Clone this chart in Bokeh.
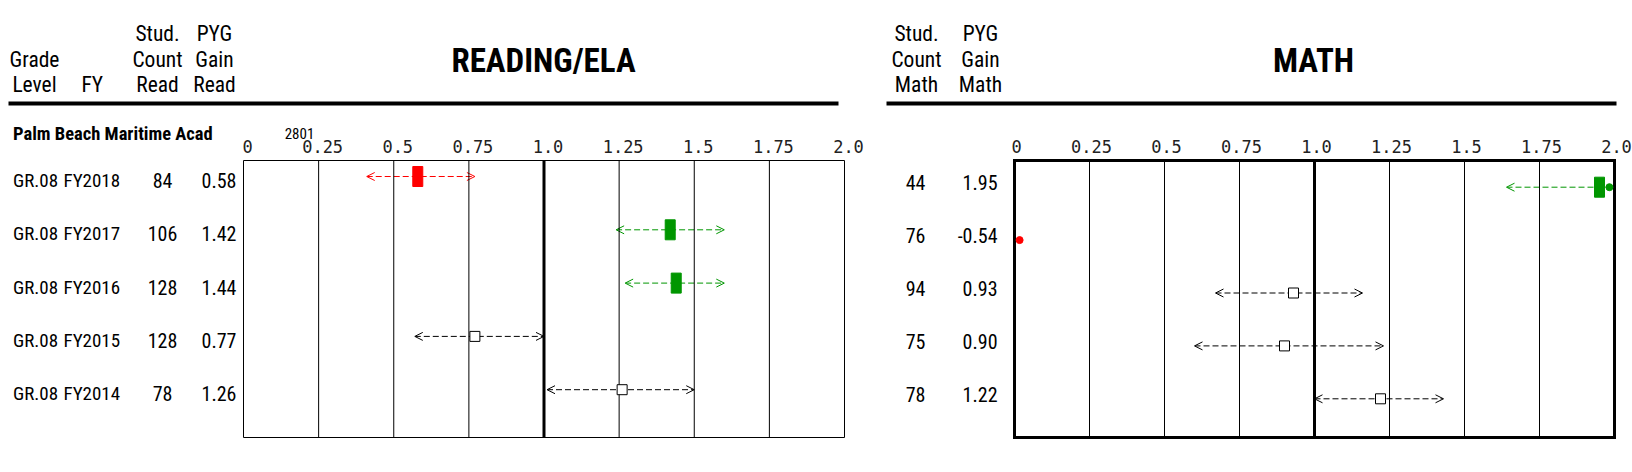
import numpy as np
from bokeh.plotting import figure
from bokeh.layouts import row
from bokeh.models import ColumnDataSource, Range1d, Arrow, OpenHead
from bokeh.embed import file_html
from bokeh.resources import INLINE
from bokeh.core.properties import value

# ---------------- data ----------------
school = "Palm Beach Maritime Acad"
school_code = "2801"
grade = ["GR.08", "GR.08", "GR.08", "GR.08", "GR.08"]
fy = ["FY2018", "FY2017", "FY2016", "FY2015", "FY2014"]

read_count = [84, 106, 128, 128, 78]
read_gain = [0.58, 1.42, 1.44, 0.77, 1.26]
read_lo = [0.41, 1.24, 1.27, 0.57, 1.01]
read_hi = [0.77, 1.60, 1.60, 1.00, 1.50]
read_sig = ["below", "above", "above", "none", "none"]

math_count = [44, 76, 94, 75, 78]
math_gain = [1.95, -0.54, 0.93, 0.90, 1.22]
math_lo = [1.64, np.nan, 0.67, 0.60, 1.00]
math_hi = [np.inf, np.nan, 1.16, 1.23, 1.43]   # inf: beyond the scale
math_sig = ["above", "below", "none", "none", "none"]

tick_vals = [0, 0.25, 0.5, 0.75, 1.0, 1.25, 1.5, 1.75, 2.0]
tick_labels = ["0", "0.25", "0.5", "0.75", "1.0", "1.25", "1.5", "1.75", "2.0"]
grid_vals = [0.25, 0.5, 0.75, 1.25, 1.5, 1.75]
ref_val = 1.0

read_headers = [["Grade", "Level"], ["FY"], ["Stud.", "Count", "Read"], ["PYG", "Gain", "Read"]]
math_headers = [["Stud.", "Count", "Math"], ["PYG", "Gain", "Math"]]
read_title = "READING/ELA"
math_title = "MATH"

# ---------------- styles / layout (screen pixels) ----------------
COLORS = {"below": "#ff0000", "above": "#009600", "none": "#000000"}
NARROW = "Roboto Condensed"
MONO = "DejaVu Sans Mono"
FIG_H = 472
BOX_TOP, BOX_BOT = 160, 437
EDGE_IN = 0.017

CFG_L = dict(canvas_left=0, canvas_w=870, box_left=243, box_right=844,
             row0=176.0, row_h=53.3, outline=1, tick_dx=4)
CFG_R = dict(canvas_left=870, canvas_w=762, box_left=1014, box_right=1614,
             row0=186.7, row_h=52.9, outline=3, tick_dx=2)


def make_panel(cfg):
    ppu = (cfg["box_right"] - cfg["box_left"]) / 2.0
    x0 = (cfg["canvas_left"] - cfg["box_left"]) / ppu
    x1 = (cfg["canvas_left"] + cfg["canvas_w"] - cfg["box_left"]) / ppu
    y_bottom = (FIG_H - cfg["row0"]) / cfg["row_h"]
    y_top = (0 - cfg["row0"]) / cfg["row_h"]
    p = figure(width=cfg["canvas_w"], height=FIG_H,
               x_range=Range1d(x0, x1), y_range=Range1d(y_bottom, y_top),
               x_axis_location=None, y_axis_location=None,
               toolbar_location=None, output_backend="svg", min_border=0)
    p.grid.visible = False
    p.outline_line_color = None
    p.background_fill_color = "white"
    p.border_fill_color = "white"
    xpx = lambda px: (px - cfg["box_left"]) / ppu
    ypx = lambda py: (py - cfg["row0"]) / cfg["row_h"]
    yt, yb = ypx(BOX_TOP), ypx(BOX_BOT)
    # grid lines and reference line
    p.segment(x0=grid_vals, y0=[yt] * len(grid_vals), x1=grid_vals,
              y1=[yb] * len(grid_vals), line_color="black", line_width=1)
    p.segment(x0=[ref_val], y0=[yt], x1=[ref_val], y1=[yb],
              line_color="black", line_width=3)
    # the box
    p.quad(left=[tick_vals[0]], right=[tick_vals[-1]], top=[yt], bottom=[yb],
           fill_color=None, line_color="black", line_width=cfg["outline"],
           line_join="miter")
    # scale labels along the top of the box
    p.text(x=tick_vals, y=[ypx(146)] * len(tick_vals), text=tick_labels,
           text_font=value(MONO), text_font_size=value("17px"),
           text_color="#222222", text_align="center", text_baseline="middle",
           x_offset=cfg["tick_dx"])
    return p, xpx, ypx


def add_texts(p, xs, ys, texts, font, size, align="center", bold=False):
    p.text(x=list(xs), y=list(ys), text=list(texts),
           text_font=value(font), text_font_size=value(size),
           text_font_style="bold" if bold else "normal",
           text_align=align, text_baseline="middle", text_color="black")


def add_headers(p, xpx, ypx, headers, centers, title, title_x, line_x0, line_x1):
    line_y = [84, 58.5, 33]
    for cols, cx in zip(headers, centers):
        lines = list(reversed(cols))
        add_texts(p, [xpx(cx)] * len(lines), [ypx(v) for v in line_y[:len(lines)]],
                  lines, NARROW, "21.5px")
    add_texts(p, [xpx(title_x)], [ypx(60)], [title], NARROW, "33px", bold=True)
    p.segment(x0=[xpx(line_x0)], y0=[ypx(103)], x1=[xpx(line_x1)], y1=[ypx(103)],
              line_width=4, line_color="black")


def add_intervals(p, y, gain, lo, hi, sig):
    gain = np.asarray(gain, float)
    lo = np.asarray(lo, float)
    hi = np.asarray(hi, float)
    y = np.asarray(y, float)
    for key in ["below", "above", "none"]:
        c = COLORS[key]
        m = np.array([s == key for s in sig])
        has_ci = m & np.isfinite(lo)
        for clipped in (False, True):
            mm = has_ci & (np.isinf(hi) == clipped)
            if not mm.any():
                continue
            x_end = np.where(np.isinf(hi[mm]), 2.0 - EDGE_IN, hi[mm])
            src = ColumnDataSource(dict(lo=lo[mm], hi=x_end, y=y[mm]))
            p.add_layout(Arrow(
                start=OpenHead(size=8, line_color=c, line_width=1),
                end=None if clipped else OpenHead(size=8, line_color=c, line_width=1),
                x_start="lo", y_start="y", x_end="hi", y_end="y", source=src,
                line_color=c, line_width=1, line_dash="6 3", level="underlay"))
            if clipped:
                p.scatter(x_end, y[mm], marker="circle", size=7, color=c)
        # gain outside the scale -> dot at the edge
        out = m & ((gain < 0) | (gain > 2))
        if out.any():
            p.scatter(np.clip(gain[out], EDGE_IN, 2 - EDGE_IN), y[out],
                      marker="circle", size=7, color=c)
        inside = m & (gain >= 0) & (gain <= 2)
        if not inside.any():
            continue
        if key == "none":
            p.scatter(gain[inside], y[inside], marker="square", size=10,
                      fill_color="white", line_color="black", line_width=1)
        else:
            p.rect(gain[inside], y[inside], width=10, height=20,
                   width_units="screen", height_units="screen",
                   fill_color=c, line_color=c)


rows_idx = np.arange(len(fy), dtype=float)

# ---------------- reading panel ----------------
pL, xL, yL = make_panel(CFG_L)
add_intervals(pL, rows_idx, read_gain, read_lo, read_hi, read_sig)
ty = rows_idx + 4.0 / CFG_L["row_h"]
add_texts(pL, [xL(12.5)] * 5, ty, grade, NARROW, "19px", align="left")
add_texts(pL, [xL(63)] * 5, ty, fy, NARROW, "19px", align="left")
add_texts(pL, [xL(162)] * 5, ty, [str(c) for c in read_count], NARROW, "20px")
add_texts(pL, [xL(218.5)] * 5, ty, [f"{g:.2f}" for g in read_gain], NARROW, "20px")
add_headers(pL, xL, yL, read_headers, [34, 91.7, 157, 214], read_title, 543, 8, 838)
add_texts(pL, [xL(12.5)], [yL(133)], [school], NARROW, "18.5px", align="left", bold=True)
add_texts(pL, [xL(299)], [yL(133)], [school_code], NARROW, "15px")

# ---------------- math panel ----------------
pR, xR, yR = make_panel(CFG_R)
add_intervals(pR, rows_idx, math_gain, math_lo, math_hi, math_sig)
ty = rows_idx - 4.6 / CFG_R["row_h"]
add_texts(pR, [xR(915)] * 5, ty, [str(c) for c in math_count], NARROW, "20px")
add_texts(pR, [xR(997)] * 5, ty, [f"{g:.2f}" for g in math_gain], NARROW, "20px", align="right")
add_headers(pR, xR, yR, math_headers, [916, 980], math_title, 1313, 886, 1616)

layout = row(pL, pR, spacing=0)
open("out.html", "w").write(file_html(layout, INLINE))
